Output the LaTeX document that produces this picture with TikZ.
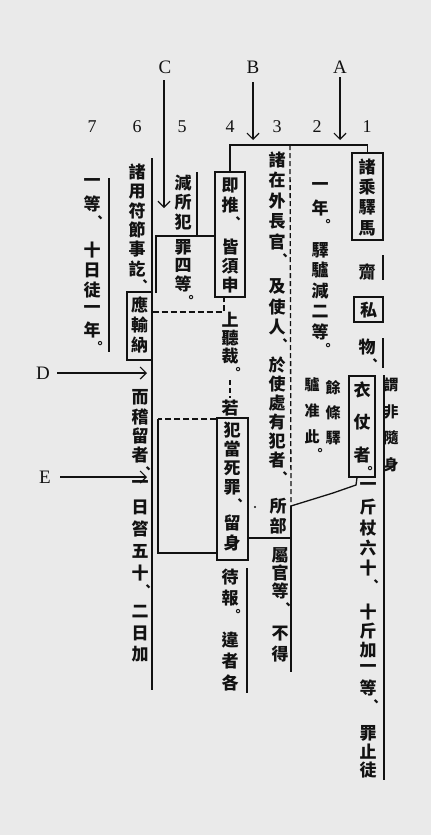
\documentclass[tikz,border=0pt]{standalone}
\usepackage{fontspec}
\setmainfont{Liberation Serif}
\newfontfamily\cjk{Noto Sans CJK TC}
\usetikzlibrary{arrows.meta}
\definecolor{bgc}{RGB}{234,234,234}
\definecolor{ink}{RGB}{18,18,18}
\newcommand\mainfs{\cjk\bfseries\fontsize{17}{17}\selectfont}
\newcommand\smallfs{\cjk\bfseries\fontsize{15}{15}\selectfont}
\newcommand\punctfs{\cjk\bfseries\fontsize{13}{13}\selectfont}
\newcount\vtn
\newif\ifvtisp
\makeatletter
\def\vt@dun{、}\def\vt@ju{。}
\newcommand\vt[5][\mainfs]{\def\vt@f{#1}\def\vt@x{#2}\def\vt@y{#3}\def\vt@last{#3}\def\vt@p{#4}\vt@loop#5\relax}
\def\vt@loop#1{\ifx\relax#1\expandafter\@gobble\else\expandafter\@firstofone\fi{\vt@one{#1}\vt@loop}}
\def\vt@one#1{\def\vt@c{#1}\vtispfalse
  \ifx\vt@c\vt@dun\vtisptrue\fi
  \ifx\vt@c\vt@ju\vtisptrue\fi
  \ifvtisp\vt@punct{#1}\else\vt@char{#1}\fi}
\def\vt@char#1{\global\advance\vtn by1
  \node[cjkt,font=\vt@f] (c\the\vtn) at (\vt@x,\vt@y) {#1};
  \edef\vt@last{\vt@y}%
  \pgfmathsetmacro\vt@y{\vt@y+\vt@p}}
\def\vt@punct#1{\global\advance\vtn by1
  \node[cjkt,font=\punctfs] (c\the\vtn) at ({\vt@x+8},{\vt@last+15}) {#1};
  \pgfmathsetmacro\vt@y{\vt@last+\vt@p+10}}
\makeatother
\begin{document}
\begin{tikzpicture}[x=1pt,y=-1pt,
  cjkt/.style={inner sep=0pt,text=ink},
  ln/.style={draw=ink,line width=1.3pt},
  dsh/.style={draw=ink,line width=1.3pt,dash pattern=on 5pt off 3pt},
  box/.style={draw=ink,line width=1.4pt,inner sep=0pt,fill=none},
  arr/.style={draw=ink,line width=1.3pt,-{Straight Barb[length=6pt,width=12pt,line width=1.2pt]}},
  lab/.style={inner sep=0pt,text=ink,font=\fontsize{19}{19}\selectfont},
  num/.style={inner sep=0pt,text=ink,font=\fontsize{18}{18}\selectfont}]
\fill[bgc] (0,0) rectangle (431,835);
\useasboundingbox (0,0) rectangle (431,835);

% letters and numbers
\node[lab] (lC) at (165,67) {C};
\node[lab] (lB) at (253,67) {B};
\node[lab] (lA) at (340,67) {A};
\node[lab] (lD) at (43,373) {D};
\node[lab] (lE) at (45,477) {E};
\node[num] (n7) at (92,127) {7};
\node[num] (n6) at (137,127) {6};
\node[num] (n5) at (182,127) {5};
\node[num] (n4) at (230,127) {4};
\node[num] (n3) at (277,127) {3};
\node[num] (n2) at (317,127) {2};
\node[num] (n1) at (367,127) {1};

% boxes
\node[box,minimum width=31,minimum height=87] (bZhu) at (367.5,196.5) {};
\node[box,minimum width=29,minimum height=25] (bSi) at (368.5,309.5) {};
\node[box,minimum width=26,minimum height=101] (bYi) at (362,426.5) {};
\node[box,minimum width=30,minimum height=125] (bJi) at (230,234.5) {};
\node[box,minimum width=31,minimum height=142] (bFan) at (232.5,489) {};
\node[box,minimum width=25,minimum height=68] (bYing) at (139.5,326) {};

% coordinates
\coordinate (cT) at (164,80);  \coordinate (cH) at (164,208);
\coordinate (bT) at (253,82);  \coordinate (bH) at (253,140);
\coordinate (aT) at (340,77);  \coordinate (aH) at (340,140);
\coordinate (dT) at (57,373);  \coordinate (dH) at (147,373);
\coordinate (eT) at (60,477);  \coordinate (eH) at (147,477);
\coordinate (topL) at (230,145); \coordinate (dashTop) at (290,145);
\coordinate (j) at (291,506); \coordinate (jBot) at (291,672);
\coordinate (j2) at (291,538);
\coordinate (k0) at (197,172); \coordinate (k1) at (197,236);
\coordinate (k2) at (156,236); \coordinate (k3) at (156,293);
\coordinate (m1) at (224,312); \coordinate (m2) at (224,297);
\coordinate (r1) at (158,419); \coordinate (r2) at (158,553);

% arrows
\draw[arr] (cT) -- (cH);
\draw[arr] (bT) -- (bH);
\draw[arr] (aT) -- (aH);
\draw[arr] (dT) -- (dH);
\draw[arr] (eT) -- (eH);

% connectors
\draw[ln] (bJi.north) -- (topL) -| (bZhu.north);
\draw[dsh] (dashTop) -- (j);
\draw[ln] (j) -- (jBot);
\draw[ln] (j2 -| bFan.east) -- (j2);
\draw[ln] ([xshift=-5pt]bYi.south) -- (356,485) -- (333,493) -- (j);
\draw[ln] (k0) -- (k1);
\draw[ln] (k3) -- (k2) -- (k2 -| bJi.west);
\draw[dsh,dash pattern=on 6pt off 3pt] (bYing.east |- m1) -- (m1) -- (m2);
\draw[dsh,dash pattern=on 6pt off 3pt] (r1 -| bFan.west) -- (r1);
\draw[ln] (r1) -- (r2) -- (r2 -| bFan.west);
\draw[dsh] (230,380) -- (230,398);
% side lines
\draw[ln] (152,158) -- (152,690);
\draw[ln] (109,178) -- (109,352);
\draw[ln] (247,568) -- (247,693);
\draw[ln] (383,255) -- (383,280);
\draw[ln] (383,338) -- (383,368);
\draw[ln] (384,375) -- (384,780);
\fill[ink] (255,507) circle (1.2);

% column 1
\vt{367}{167}{20.3}{諸乘驛馬}
\vt{367}{272}{20}{齎}
\vt{368.5}{310}{20}{私}
\vt{367}{347}{20}{物、}
\vt{362}{390}{32.5}{衣仗者。}
\vt[\smallfs]{391}{385}{26.5}{謂非隨身}
\vt{368}{487}{20.3}{一斤杖六十、}
\vt{368}{612}{19}{十斤加一等、}
\vt{368}{733}{18.5}{罪止徒}
% column 2
\vt{320}{187}{21}{一年。}
\vt{320}{250}{20.5}{驛驢減二等。}
\vt[\smallfs]{333}{388}{25}{餘條驛}
\vt[\smallfs]{312}{385}{26}{驢准此。}
% column 3
\vt{277}{160}{20.5}{諸在外長官、}
\vt{277}{287}{20}{及使人、}
\vt{277}{365}{19}{於使處有犯者、}
\vt{278}{506}{19.5}{所部}
\vt{280}{555}{18}{屬官等、}
\vt{280}{634}{20}{不得}
% column 4
\vt{230}{185}{20.5}{即推、}
\vt{230}{247}{19}{皆須申}
\vt{230}{320}{18}{上聽裁。}
\vt{230}{408}{18}{若}
\vt{232}{430}{19}{犯當死罪、}
\vt{232}{523}{20}{留身}
\vt{230}{577}{21}{待報。}
\vt{230}{640}{21.5}{違者各}
% column 5
\vt{183}{183}{19.5}{減所犯}
\vt{183}{247}{18.5}{罪四等。}
% column 6
\vt{137}{172}{19.3}{諸用符節事訖、}
\vt{139.5}{305}{20}{應輸納}
\vt{140}{397}{19.5}{而稽留者、}
\vt{140}{485}{22}{一日笞五十、}
\vt{140}{612}{21}{二日加}
% column 7
\vt{92}{183}{21}{一等、}
\vt{92}{250}{20}{十日徒一年。}
\end{tikzpicture}
\end{document}
